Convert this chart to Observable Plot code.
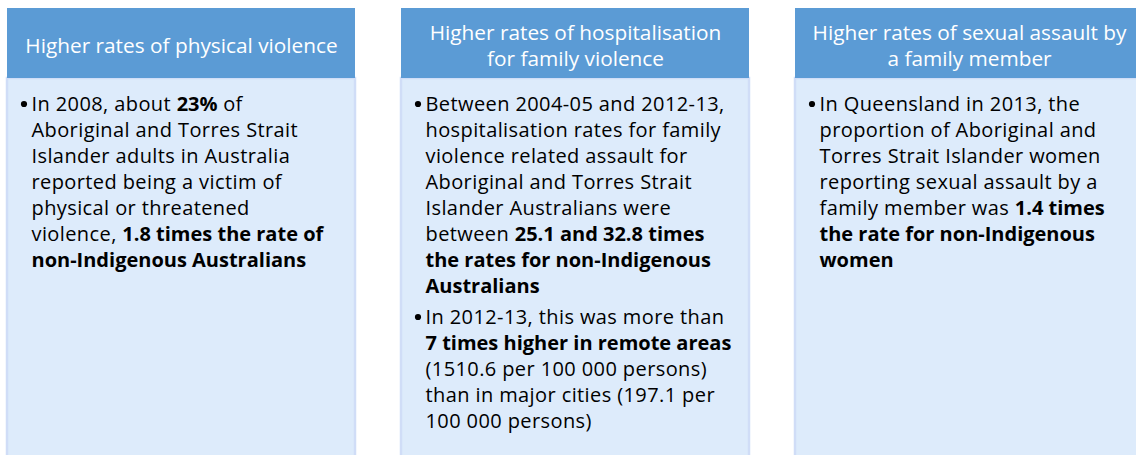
<!DOCTYPE html>
<html>
<head>
<meta charset="utf-8">
<script src="https://cdn.jsdelivr.net/npm/d3@7"></script>
<script src="https://cdn.jsdelivr.net/npm/@observablehq/plot@0.6"></script>
<style>
  html, body { margin: 0; padding: 0; background: #ffffff; overflow: hidden; }
  #chart svg { display: block; }
</style>
</head>
<body>
<div id="chart"></div>
<script>
// ---- Data ----
const titles = [
  "Higher rates of physical violence",
  "Higher rates of hospitalisation\nfor family violence",
  "Higher rates of sexual assault by\na family member"
];
// each box: list of bullets, each bullet a list of lines (**bold**)
const bulletsBox1 = [[
  "In 2008, about **23%** of",
  "Aboriginal and Torres Strait",
  "Islander adults in Australia",
  "reported being a victim of",
  "physical or threatened",
  "violence, **1.8 times the rate of**",
  "**non-Indigenous Australians**"
]];
const bulletsBox2 = [[
  "Between 2004-05 and 2012-13,",
  "hospitalisation rates for family",
  "violence related assault for",
  "Aboriginal and Torres Strait",
  "Islander Australians were",
  "between **25.1 and 32.8 times**",
  "**the rates for non-Indigenous**",
  "**Australians**"
], [
  "In 2012-13, this was more than",
  "**7 times higher in remote areas**",
  "(1510.6 per 100 000 persons)",
  "than in major cities (197.1 per",
  "100 000 persons)"
]];
const bulletsBox3 = [[
  "In Queensland in 2013, the",
  "proportion of Aboriginal and",
  "Torres Strait Islander women",
  "reporting sexual assault by a",
  "family member was **1.4 times**",
  "**the rate for non-Indigenous**",
  "**women**"
]];
const boxBullets = [bulletsBox1, bulletsBox2, bulletsBox3];

// ---- Layout ----
const W = 1136, H = 455;
const headerTop = 8, headerBottom = 78, bodyBottom = 470;
const firstBaseline = 110, lineH = 26, bulletGap = 5;
const bodyFont = 20, headFont = 20.8;
const boxW = 348;

const lines = [], bulletMarks = [];
boxBullets.forEach((bullets, b) => {
  let base = firstBaseline;
  bullets.forEach((bl, k) => {
    if (k > 0) base += bulletGap;
    bl.forEach((t, i) => {
      const yb = base + i * lineH;
      lines.push({col: titles[b], text: t, y: yb - 0.32 * bodyFont});
      if (i === 0) bulletMarks.push({col: titles[b], y: yb - 6.5});
    });
    base += bl.length * lineH;
  });
});
const boxes = titles.map(t => ({col: t}));

const plot = Plot.plot({
  width: W, height: H,
  margin: 0,
  style: {background: "transparent", fontFamily: "'Open Sans', sans-serif", overflow: "visible"},
  x: {type: "band", domain: titles, range: [7, 7 + 3 * 394 - 46], paddingInner: 46 / 394, paddingOuter: 0, align: 0, axis: null},
  y: {domain: [0, H], range: [0, H], axis: null},
  marks: [
    Plot.barY(boxes, {x: "col", y1: headerBottom, y2: bodyBottom, fill: "#ddebfb", stroke: "#d0ddf7", strokeWidth: 2.5, inset: 0}),
    Plot.barY(boxes, {x: "col", y1: headerTop, y2: headerBottom, fill: "#5b9bd5", inset: 0}),
    Plot.ruleY(boxes, {x: "col", y: headerBottom, stroke: "#5590c8", strokeWidth: 1}),
    Plot.text(boxes, {x: "col", y: 44, text: "col", fill: "white", fontSize: headFont, lineHeight: 26 / headFont, lineAnchor: "middle", textAnchor: "middle"}),
    Plot.dot(bulletMarks, {x: "col", y: "y", r: 3.1, fill: "black", stroke: null, dx: -boxW / 2 + 16.5}),
    Plot.text(lines, {x: "col", y: "y", text: "text", fill: "black", fontSize: bodyFont, textAnchor: "start", lineAnchor: "middle", dx: -boxW / 2 + 24, className: "body-lines"})
  ]
});

// slight letter spacing on the regular body text (Calibri-like widths)
d3.select(plot).selectAll("g[aria-label='text'] text").filter(function() { return this.getAttribute("fill") === "black" || this.parentNode.getAttribute("fill") === "black"; })
  .attr("letter-spacing", "0.4");

// convert **bold** markup into tspans
d3.select(plot).selectAll("text").each(function() {
  const el = this;
  if (el.childElementCount > 0) return;
  const s = el.textContent;
  if (!s.includes("**")) return;
  el.textContent = "";
  s.split("**").forEach((part, i) => {
    if (!part) return;
    const ts = document.createElementNS("http://www.w3.org/2000/svg", "tspan");
    ts.textContent = part;
    if (i % 2 === 1) { ts.setAttribute("font-weight", "bold"); ts.setAttribute("letter-spacing", "0"); }
    el.appendChild(ts);
  });
});
document.getElementById("chart").appendChild(plot);
</script>
</body>
</html>
